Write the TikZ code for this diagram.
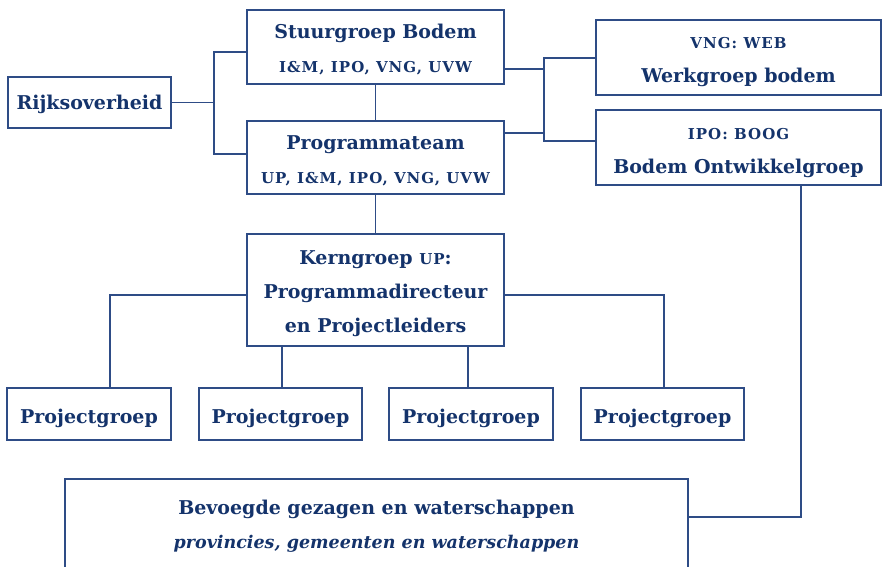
\documentclass[tikz,border=0pt]{standalone}
\usepackage{fontspec}
\setmainfont{DejaVu Serif}
\newfontfamily\scfont[LetterSpace=7]{DejaVu Serif}
\definecolor{txt}{HTML}{14336B}
\definecolor{ln}{HTML}{2E4C86}
\newcommand{\smc}[1]{{\scfont\bfseries\fontsize{15}{34}\selectfont #1}}
\begin{document}
\begin{tikzpicture}[x=1pt,y=-1pt,
  box/.style={draw=ln, line width=1.3pt, inner sep=0pt, anchor=center},
  lbl/.style={text=txt, font=\bfseries\fontsize{19}{34}\selectfont, align=center, inner sep=0pt, anchor=center},
  conn/.style={draw=ln, line width=1.2pt}]
\useasboundingbox (0,0) rectangle (882,566);
% boxes
\node[box, minimum width=163, minimum height=51] (rijk) at (89.5,102.5) {};
\node[box, minimum width=257, minimum height=74] (stuur) at (375.5,47) {};
\node[box, minimum width=257, minimum height=73] (prog) at (375.5,157.5) {};
\node[box, minimum width=285, minimum height=75] (web) at (738.5,57.5) {};
\node[box, minimum width=285, minimum height=75] (boog) at (738.5,147.5) {};
\node[box, minimum width=257, minimum height=112] (kern) at (375.5,290) {};
\node[box, minimum width=164, minimum height=52] (pg1) at (89,414) {};
\node[box, minimum width=163, minimum height=52] (pg2) at (280.5,414) {};
\node[box, minimum width=164, minimum height=52] (pg3) at (471,414) {};
\node[box, minimum width=163, minimum height=52] (pg4) at (662.5,414) {};
\node[box, minimum width=623, minimum height=92] (bev) at (376.5,525) {};
% texts
\node[lbl] (rijkT) at ([yshift=-2pt]rijk.center) {Rijksoverheid};
\node[lbl] (stuurT) at ([yshift=-3pt]stuur.center) {Stuurgroep Bodem\\ \smc{I\&M, IPO, VNG, UVW}};
\node[lbl] (progT) at ([yshift=-3pt]prog.center) {Programmateam\\ \smc{UP, I\&M, IPO, VNG, UVW}};
\node[lbl] (webT) at ([yshift=-5pt]web.center) {\smc{VNG: WEB}\\ Werkgroep bodem};
\node[lbl] (boogT) at ([yshift=-5.5pt]boog.center) {\smc{IPO: BOOG}\\ Bodem Ontwikkelgroep};
\node[lbl] (kernT) at ([yshift=-4pt]kern.center) {Kerngroep \smc{UP}:\\ Programmadirecteur\\ en Projectleiders};
\node[lbl] (pg1T) at ([yshift=-4pt]pg1.center) {Projectgroep};
\node[lbl] (pg2T) at ([yshift=-4pt]pg2.center) {Projectgroep};
\node[lbl] (pg3T) at ([yshift=-4pt]pg3.center) {Projectgroep};
\node[lbl] (pg4T) at ([yshift=-4pt]pg4.center) {Projectgroep};
\node[lbl] (bevT) at ([yshift=-1pt]bev.center) {Bevoegde gezagen en waterschappen\\ {\fontsize{17.5}{34}\selectfont\itshape provincies, gemeenten en waterschappen}};
% connectors
\coordinate (b1) at (214,52);
\coordinate (b2) at (214,154);
\draw[conn] (rijk.east) -- (rijk.east -| b1);
\draw[conn] (stuur.west |- b1) -- (b1) -- (b2) -- (prog.west |- b2);
\draw[conn] (stuur.south) -- (prog.north);
\draw[conn] (prog.south) -- (kern.north);
\coordinate (c1) at (544,58);
\coordinate (c2) at (544,141);
\draw[conn] ([yshift=-22pt]stuur.east) -- ([yshift=-22pt]stuur.east -| c1);
\draw[conn] ([yshift=24.5pt]prog.east) -- ([yshift=24.5pt]prog.east -| c1);
\draw[conn] (web.west |- c1) -- (c1) -- (c2) -- (boog.west |- c2);
\draw[conn] ([yshift=-5pt]kern.west) -| ([xshift=21pt]pg1.north);
\draw[conn] ([yshift=-5pt]kern.east) -| ([xshift=1.5pt]pg4.north);
\draw[conn] ([xshift=1.5pt]pg2.north) -- ([xshift=1.5pt]pg2.north |- kern.south);
\draw[conn] ([xshift=-3pt]pg3.north) -- ([xshift=-3pt]pg3.north |- kern.south);
\draw[conn] ([xshift=62.5pt]boog.south) |- ([yshift=8pt]bev.east);
\end{tikzpicture}
\end{document}
